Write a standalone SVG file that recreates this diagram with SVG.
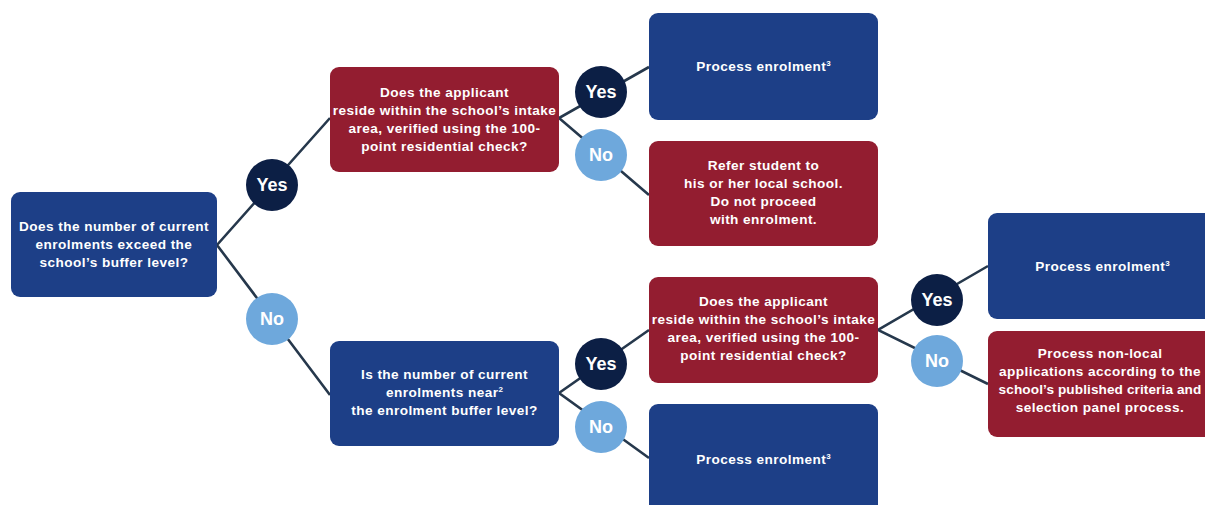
<svg xmlns="http://www.w3.org/2000/svg" width="1205" height="505" viewBox="0 0 1205 505">
  <style>
    .blue { fill: #1d3f87; }
    .red { fill: #931d30; }
    .yes { fill: #0c1f45; }
    .no { fill: #6ea8dc; }
    .link { stroke: #26384c; stroke-width: 2.6; fill: none; }
    .t { font-family: "Liberation Sans", Arial, sans-serif; font-weight: bold; font-size: 13.6px; letter-spacing: 0.45px; fill: #ffffff; text-anchor: middle; }
    .tight { letter-spacing: 0.1px; }
    .c { font-family: "Liberation Sans", Arial, sans-serif; font-weight: bold; font-size: 18px; fill: #ffffff; text-anchor: middle; }
    .sup { font-size: 8px; letter-spacing: 0; }
  </style>
  <rect width="1205" height="505" fill="#ffffff"/>

  <!-- connectors -->
  <g id="connectors">
    <polyline class="link" points="330,118 217,245 330,395"/>
    <polyline class="link" points="649,67 559,118 649,195"/>
    <polyline class="link" points="649,330 559,393 649,458"/>
    <polyline class="link" points="988,266 878,330 988,384"/>
  </g>

  <!-- decision: buffer level -->
  <g id="q-buffer">
    <rect class="blue" x="11" y="192" width="206" height="105" rx="9"/>
    <text class="t" x="114" y="231">Does the number of current</text>
    <text class="t" x="114" y="249">enrolments exceed the</text>
    <text class="t" x="114" y="267">school’s buffer level?</text>
  </g>

  <g id="ans-yes-1">
    <circle class="yes" cx="272" cy="185" r="26"/>
    <text class="c" x="272" y="191">Yes</text>
  </g>
  <g id="ans-no-1">
    <circle class="no" cx="272" cy="319" r="26"/>
    <text class="c" x="272" y="325">No</text>
  </g>

  <!-- decision: intake area (upper) -->
  <g id="q-intake-1">
    <rect class="red" x="330" y="67" width="229" height="105" rx="9"/>
    <text class="t" x="444.5" y="97">Does the applicant</text>
    <text class="t" x="444.5" y="115">reside within the school’s intake</text>
    <text class="t" x="444.5" y="133">area, verified using the 100-</text>
    <text class="t" x="444.5" y="151">point residential check?</text>
  </g>

  <g id="ans-yes-2">
    <circle class="yes" cx="601" cy="92" r="26"/>
    <text class="c" x="601" y="98">Yes</text>
  </g>
  <g id="ans-no-2">
    <circle class="no" cx="601" cy="155" r="26"/>
    <text class="c" x="601" y="161">No</text>
  </g>

  <g id="r-process-1">
    <rect class="blue" x="649" y="13" width="229" height="107" rx="9"/>
    <text class="t" x="763.5" y="71">Process enrolment<tspan class="sup" dy="-5">3</tspan></text>
  </g>

  <g id="r-refer">
    <rect class="red" x="649" y="141" width="229" height="105" rx="9"/>
    <text class="t" x="763.5" y="170">Refer student to</text>
    <text class="t" x="763.5" y="188">his or her local school.</text>
    <text class="t" x="763.5" y="206">Do not proceed</text>
    <text class="t" x="763.5" y="224">with enrolment.</text>
  </g>

  <!-- decision: near buffer level -->
  <g id="q-near">
    <rect class="blue" x="330" y="341" width="229" height="105" rx="9"/>
    <text class="t" x="444.5" y="379">Is the number of current</text>
    <text class="t" x="444.5" y="397">enrolments near<tspan class="sup" dy="-5">2</tspan></text>
    <text class="t" x="444.5" y="415">the enrolment buffer level?</text>
  </g>

  <g id="ans-yes-3">
    <circle class="yes" cx="601" cy="364" r="26"/>
    <text class="c" x="601" y="370">Yes</text>
  </g>
  <g id="ans-no-3">
    <circle class="no" cx="601" cy="427" r="26"/>
    <text class="c" x="601" y="433">No</text>
  </g>

  <!-- decision: intake area (lower) -->
  <g id="q-intake-2">
    <rect class="red" x="649" y="277" width="229" height="106" rx="9"/>
    <text class="t" x="763.5" y="306">Does the applicant</text>
    <text class="t" x="763.5" y="324">reside within the school’s intake</text>
    <text class="t" x="763.5" y="342">area, verified using the 100-</text>
    <text class="t" x="763.5" y="360">point residential check?</text>
  </g>

  <g id="r-process-2">
    <rect class="blue" x="649" y="404" width="229" height="115" rx="9"/>
    <text class="t" x="763.5" y="464">Process enrolment<tspan class="sup" dy="-5">3</tspan></text>
  </g>

  <g id="ans-yes-4">
    <circle class="yes" cx="937" cy="300" r="26"/>
    <text class="c" x="937" y="306">Yes</text>
  </g>
  <g id="ans-no-4">
    <circle class="no" cx="937" cy="361" r="26"/>
    <text class="c" x="937" y="367">No</text>
  </g>

  <g id="r-process-3">
    <rect class="blue" x="988" y="213" width="229" height="106" rx="9"/>
    <text class="t" x="1102.5" y="271">Process enrolment<tspan class="sup" dy="-5">3</tspan></text>
  </g>

  <g id="r-nonlocal">
    <rect class="red" x="988" y="331" width="229" height="106" rx="9"/>
    <text class="t" x="1100" y="358">Process non-local</text>
    <text class="t" x="1100" y="376">applications according to the</text>
    <text class="t tight" x="1100" y="394">school’s published criteria and</text>
    <text class="t" x="1100" y="412">selection panel process.</text>
  </g>
</svg>
